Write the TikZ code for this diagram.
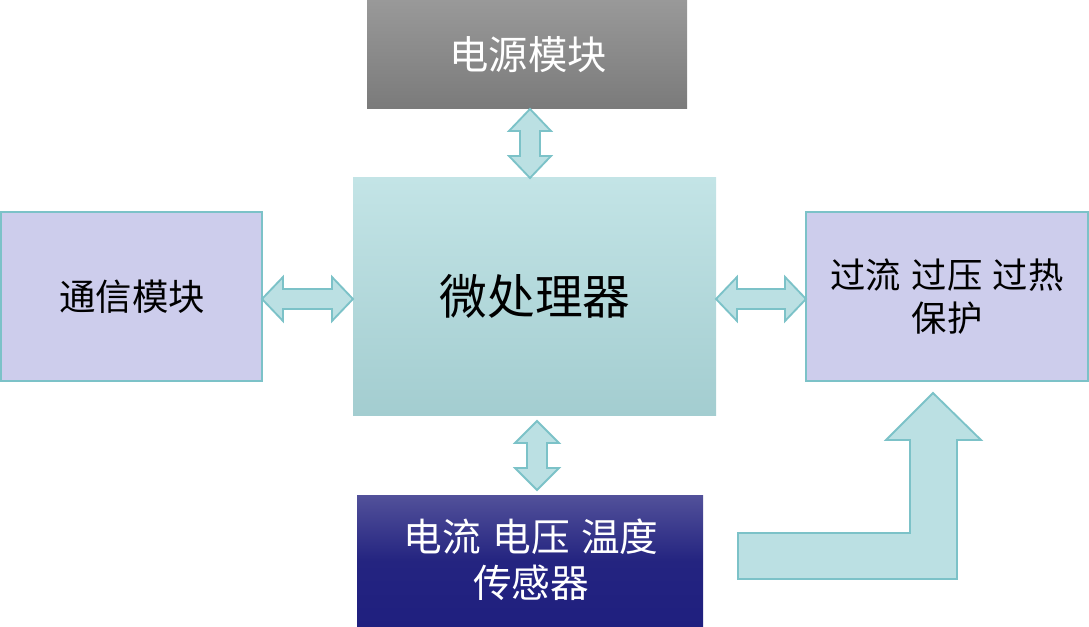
\documentclass[tikz,border=0pt]{standalone}
\usepackage{fontspec}
\newfontfamily\cjk{Noto Sans CJK SC}
\usetikzlibrary{calc}
\definecolor{arrfill}{HTML}{BBE0E3}
\definecolor{arrline}{HTML}{7CC2C8}
\definecolor{lav}{HTML}{CDCDEC}
\tikzset{
  sidebox/.style={fill=lav, draw=arrline, line width=1.5pt, inner sep=0pt, align=center},
  arr/.style={fill=arrfill, draw=arrline, line width=1.4pt, line join=miter}
}
\begin{document}
\begin{tikzpicture}[x=0.75pt,y=-0.75pt]
\useasboundingbox (0,0) rectangle (1089,627);
% boxes
\path[top color=black!40, bottom color=black!52] (367,0) rectangle (687,109);
\node[text=white, font=\cjk\fontsize{29.5}{34}\selectfont] (power) at (528,54.5) {电源模块};
\coordinate (powerS) at (530,109);

\path[top color={rgb,255:red,195;green,228;blue,230}, bottom color={rgb,255:red,163;green,205;blue,208}] (353,178) rectangle (716,415);
\node[text=black, font=\cjk\fontsize{35.8}{40}\selectfont] (micro) at (535,296.5) {微处理器};
\coordinate (microN) at (530,178);
\coordinate (microS) at (537,421);
\coordinate (microW) at (353,299);
\coordinate (microE) at (716,299);

\path[sidebox] (1,212) rectangle (262,381);
\node[font=\cjk\fontsize{27.3}{32}\selectfont] (comm) at (132,296.5) {通信模块};
\coordinate (commE) at (262,299);

\path[sidebox] (806,212) rectangle (1088,381);
\node[font=\cjk\fontsize{26.5}{32}\selectfont, align=center] (prot) at (947,296.5) {过流\hspace{0.3em}过压\hspace{0.3em}过热\\保护};
\coordinate (protW) at (806,299);
\coordinate (protS) at (933,393);

\path[top color={rgb,255:red,82;green,81;blue,154}, bottom color={rgb,255:red,31;green,31;blue,127}, middle color={rgb,255:red,36;green,36;blue,128}] (357,495) rectangle (703,627);
\node[text=white, font=\cjk\fontsize{29}{34.5}\selectfont, align=center] (sensor) at (531,560) {电流\hspace{0.3em}电压\hspace{0.3em}温度\\传感器};
\coordinate (sensorN) at (537,490);
\coordinate (sensorE) at (738,556);

% vertical double arrows
\draw[arr] (powerS) -- ($(powerS)+(21,22)$) -- ($(powerS)+(10,22)$) -- ($(microN)+(10,-22)$) -- ($(microN)+(21,-22)$) -- (microN)
  -- ($(microN)+(-21,-22)$) -- ($(microN)+(-10,-22)$) -- ($(powerS)+(-10,22)$) -- ($(powerS)+(-21,22)$) -- cycle;
\draw[arr] (microS) -- ($(microS)+(22,22)$) -- ($(microS)+(10,22)$) -- ($(sensorN)+(10,-22)$) -- ($(sensorN)+(22,-22)$) -- (sensorN)
  -- ($(sensorN)+(-22,-22)$) -- ($(sensorN)+(-10,-22)$) -- ($(microS)+(-10,22)$) -- ($(microS)+(-22,22)$) -- cycle;
% horizontal double arrows
\draw[arr] (commE) -- ($(commE)+(21,-22)$) -- ($(commE)+(21,-10)$) -- ($(microW)+(-21,-10)$) -- ($(microW)+(-21,-22)$) -- (microW)
  -- ($(microW)+(-21,22)$) -- ($(microW)+(-21,10)$) -- ($(commE)+(21,10)$) -- ($(commE)+(21,22)$) -- cycle;
\draw[arr] (microE) -- ($(microE)+(21,-22)$) -- ($(microE)+(21,-10)$) -- ($(protW)+(-21,-10)$) -- ($(protW)+(-21,-22)$) -- (protW)
  -- ($(protW)+(-21,22)$) -- ($(protW)+(-21,10)$) -- ($(microE)+(21,10)$) -- ($(microE)+(21,22)$) -- cycle;
% bent arrow from sensors to protection
\draw[arr] ($(sensorE)+(0,-23)$) -- (910,533) -- (910,440) -- (886,440) -- (protS) -- (981,440) -- (957,440) -- (957,579) -- ($(sensorE)+(0,23)$) -- cycle;
\end{tikzpicture}
\end{document}
